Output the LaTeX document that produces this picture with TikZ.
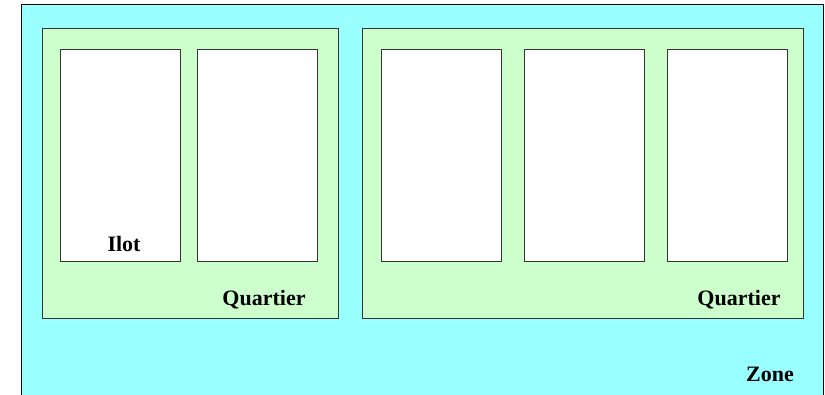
\documentclass[tikz,border=0pt]{standalone}
\usepackage{fontspec}
\setmainfont{Liberation Serif}
\definecolor{zonec}{HTML}{99FFFF}
\definecolor{quartc}{HTML}{CCFFCC}
\begin{document}
\begin{tikzpicture}[x=0.75pt,y=-0.75pt,
  zonebox/.style={draw=black,line width=0.75pt,fill=zonec},
  quartbox/.style={draw=black!80,line width=0.75pt,fill=quartc},
  ilotbox/.style={draw=black!80,line width=0.75pt,fill=white},
  lbl/.style={font=\fontsize{16.5pt}{18pt}\selectfont\bfseries,anchor=base,inner sep=0pt}]
\useasboundingbox (0,0) rectangle (825,395);
\begin{scope}
\clip (0,0) rectangle (825,395);
\draw[zonebox] (21.5,5) rectangle (823.5,400);
\end{scope}
\draw[quartbox] (42.5,28.5) rectangle (338.5,318.5);
\draw[quartbox] (362.5,28.5) rectangle (803.5,318.5);
\draw[ilotbox] (60.5,49.5) rectangle (180.5,261.5);
\draw[ilotbox] (197.5,49.5) rectangle (317.5,261.5);
\draw[ilotbox] (381.5,49.5) rectangle (501.5,261.5);
\draw[ilotbox] (524.5,49.5) rectangle (644.5,261.5);
\draw[ilotbox] (667.5,49.5) rectangle (787.5,261.5);
\node[lbl] (ilot) at (124,252) {Ilot};
\node[lbl] (q1) at (264,306) {Quartier};
\node[lbl] (q2) at (739,306) {Quartier};
\node[lbl] (zone) at (770,382) {Zone};
\end{tikzpicture}
\end{document}
